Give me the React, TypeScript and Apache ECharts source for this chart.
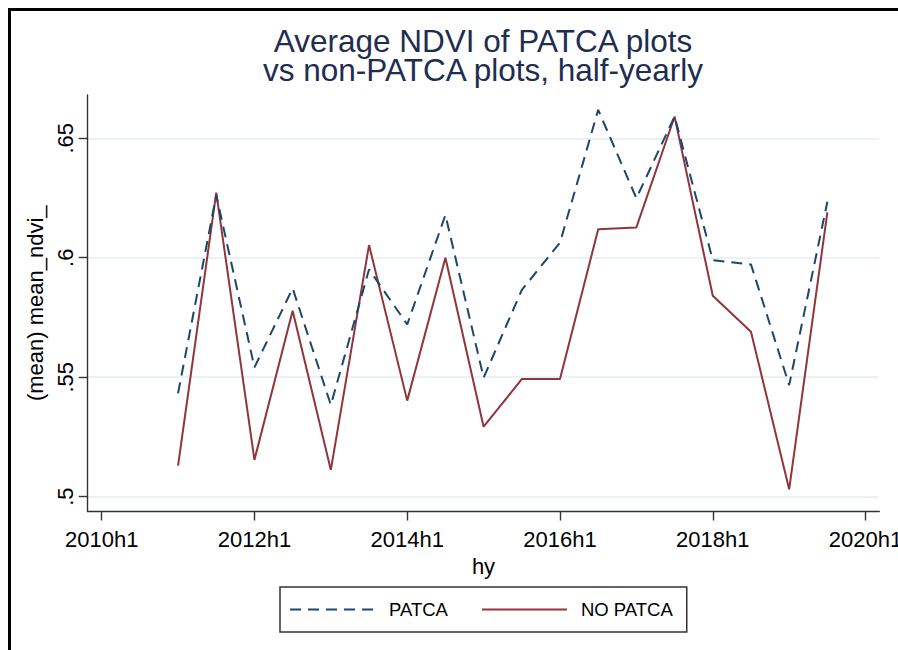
import React, { useEffect, useRef } from 'react';
import * as echarts from 'echarts';

const periods = [
  '2011h1', '2011h2', '2012h1', '2012h2', '2013h1', '2013h2', '2014h1', '2014h2', '2015h1',
  '2015h2', '2016h1', '2016h2', '2017h1', '2017h2', '2018h1', '2018h2', '2019h1', '2019h2',
];
const patca = [
  0.5433, 0.6262, 0.5541, 0.5872, 0.5384, 0.5951, 0.5721, 0.6179, 0.5498,
  0.5865, 0.6063, 0.6619, 0.6249, 0.6591, 0.599, 0.5972, 0.5467, 0.6234,
];
const noPatca = [
  0.513, 0.6272, 0.5154, 0.5778, 0.5112, 0.6053, 0.5402, 0.6, 0.5293,
  0.5492, 0.5492, 0.6119, 0.6127, 0.6591, 0.5841, 0.569, 0.5031, 0.619,
];
const xTickLabels = ['2010h1', '2012h1', '2014h1', '2016h1', '2018h1', '2020h1'];
const yTickValues = [0.5, 0.55, 0.6, 0.65];
const yTickLabels = ['.5', '.55', '.6', '.65'];
const titleLines = ['Average NDVI of PATCA plots', 'vs non-PATCA plots, half-yearly'];
const seriesNames = ['PATCA', 'NO PATCA'];

const toIndex = (p: string) => {
  const y = parseInt(p.slice(0, 4), 10);
  const h = parseInt(p.slice(5), 10);
  return (y - 2010) * 2 + (h - 1);
};

const FONT = "'Liberation Sans', Arial, Helvetica, sans-serif";

export default function App() {
  const ref = useRef<HTMLDivElement>(null);
  useEffect(() => {
    if (!ref.current) return;
    const chart = echarts.init(ref.current, undefined, { renderer: 'svg' });
    const xTickValues = xTickLabels.map(toIndex);
    const option: any = {
      animation: false,
      backgroundColor: '#ffffff',
      textStyle: { fontFamily: FONT },
      graphic: [
        {
          type: 'rect',
          shape: { x: 9.5, y: 9.5, width: 2000, height: 2000 },
          style: { fill: 'none', stroke: '#000', lineWidth: 3 },
          silent: true,
        },
        {
          type: 'text',
          x: 483,
          y: 41,
          style: {
            text: titleLines[0],
            font: `31.5px ${FONT}`,
            fill: '#1e2d52',
            textAlign: 'center',
            textVerticalAlign: 'middle',
          },
        },
        {
          type: 'text',
          x: 483,
          y: 70,
          style: {
            text: titleLines[1],
            font: `31.5px ${FONT}`,
            fill: '#1e2d52',
            textAlign: 'center',
            textVerticalAlign: 'middle',
          },
        },
      ],
      grid: {
        left: 87.7,
        right: 18.7,
        top: 95,
        bottom: 138.5,
        containLabel: false,
        outerBoundsMode: 'none',
      },
      legend: {
        left: 280,
        top: 587,
        orient: 'horizontal',
        padding: [13, 14, 13, 9],
        itemWidth: 85,
        itemHeight: 14,
        itemGap: 33,
        borderColor: '#333',
        borderWidth: 1.5,
        borderRadius: 0,
        itemStyle: { opacity: 0, borderWidth: 0 },
        textStyle: { fontSize: 18.5, color: '#000', fontFamily: FONT, padding: [0, 0, 0, 9] },
        data: seriesNames,
      },
      xAxis: {
        type: 'value',
        min: -0.366,
        max: 20.36,
        name: 'hy',
        nameLocation: 'middle',
        nameGap: 39,
        nameTextStyle: { fontSize: 22, color: '#000', fontFamily: FONT },
        axisLine: { show: true, onZero: false, lineStyle: { color: '#333', width: 1.4 } },
        axisTick: {
          show: true,
          length: 9,
          customValues: xTickValues,
          lineStyle: { color: '#333', width: 1.4 },
        },
        axisLabel: {
          show: true,
          margin: 17,
          fontSize: 22,
          color: '#000',
          fontFamily: FONT,
          customValues: xTickValues,
          formatter: (v: number) => {
            const i = xTickValues.findIndex((t) => Math.abs(t - v) < 1e-6);
            return i >= 0 ? xTickLabels[i] : '';
          },
          hideOverlap: false,
          showMinLabel: true,
          showMaxLabel: true,
        },
        splitLine: { show: false },
      },
      yAxis: {
        type: 'value',
        min: 0.4938,
        max: 0.6681,
        name: '(mean) mean_ndvi_',
        nameLocation: 'middle',
        nameGap: 36,
        nameRotate: 90,
        nameTextStyle: { fontSize: 22, color: '#000', fontFamily: FONT },
        axisLine: { show: true, onZero: false, lineStyle: { color: '#333', width: 1.4 } },
        axisTick: {
          show: true,
          length: 9,
          customValues: yTickValues,
          lineStyle: { color: '#333', width: 1.4 },
        },
        axisLabel: {
          show: true,
          rotate: 90,
          margin: 11,
          fontSize: 22,
          color: '#000',
          fontFamily: FONT,
          customValues: yTickValues,
          formatter: (v: number) => {
            const i = yTickValues.findIndex((t) => Math.abs(t - v) < 1e-6);
            return i >= 0 ? yTickLabels[i] : '';
          },
        },
        splitLine: { show: true, lineStyle: { color: '#e4eef0', width: 1.5 } },
      },
      series: [
        {
          name: seriesNames[0],
          type: 'line',
          symbol: 'none',
          showSymbol: false,
          data: periods.map((p, i) => [toIndex(p), patca[i]]),
          lineStyle: { color: '#1a476f', width: 2, type: [11, 7] },
          itemStyle: { color: '#1a476f' },
          z: 3,
        },
        {
          name: seriesNames[1],
          type: 'line',
          symbol: 'none',
          showSymbol: false,
          data: periods.map((p, i) => [toIndex(p), noPatca[i]]),
          lineStyle: { color: '#90353b', width: 2 },
          itemStyle: { color: '#90353b' },
          z: 2,
        },
      ],
    };
    chart.setOption(option);
    return () => chart.dispose();
  }, []);
  return (
    <div
      ref={ref}
      style={{ position: 'absolute', left: 0, top: 0, width: 898, height: 650, background: '#fff' }}
    />
  );
}
